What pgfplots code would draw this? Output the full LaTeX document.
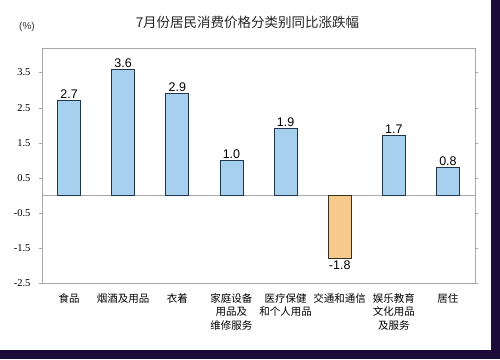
\documentclass[border=0pt]{standalone}
\usepackage{pgfplots}
\pgfplotsset{compat=1.18}
\usepackage{fontspec}
\setmainfont{Liberation Sans}
\newfontfamily\cjk{Noto Sans CJK SC}
\newfontfamily\serif{Liberation Serif}
\definecolor{barblue}{HTML}{A6D0EE}
\definecolor{barorange}{HTML}{F7C98C}
\definecolor{edgeblue}{HTML}{1F3550}
\definecolor{edgeorange}{HTML}{3A3020}
\definecolor{framegray}{HTML}{A8A8A8}
\definecolor{navy}{HTML}{1A0B38}
\begin{document}
\begin{tikzpicture}[x=1pt,y=1pt]
\fill[navy] (0,0) rectangle (500,-359);
\fill[white] (0,0) rectangle (491,-350);
\node[font=\cjk\fontsize{13.5}{15}\selectfont, text=black!85] at (247.5,-22) {7月份居民消费价格分类别同比涨跌幅};
\node[font=\fontsize{10}{12}\selectfont, text=black!80] at (27,-26.5) {(\%)};
\begin{axis}[
  at={(42pt,-283pt)}, anchor=south west,
  width=433pt, height=235pt, scale only axis,
  ybar, bar width=23pt, bar shift=0pt,
  xmin=-0.5, xmax=7.5, ymin=-2.5, ymax=4.2,
  axis line style={framegray},
  xtick={0,...,7}, xtick style={draw=none},
  xticklabels={食品,烟酒及用品,衣着,家庭设备\\用品及\\维修服务,医疗保健\\和个人用品,交通和通信,娱乐教育\\文化用品\\及服务,居住},
  xticklabel style={font=\cjk\fontsize{10.5}{13.3}\selectfont, align=center, anchor=north, yshift=-4pt},
  ytick={-2.5,-1.5,-0.5,0.5,1.5,2.5,3.5},
  yticklabels={-2.5,-1.5,-0.5,0.5,1.5,2.5,3.5},
  yticklabel style={font=\serif\fontsize{10.5}{12}\selectfont, xshift=-5pt},
  ytick style={framegray},
  tick align=outside, major tick length=3pt,
  nodes near coords,
  nodes near coords style={font=\fontsize{12.5}{14}\selectfont, inner sep=1.5pt, /pgf/number format/fixed, /pgf/number format/fixed zerofill, /pgf/number format/precision=1, /pgf/number format/assume math mode=true},
]
\draw[framegray, line width=0.8pt] (axis cs:-0.5,0) -- (axis cs:7.5,0);
\addplot[fill=barblue, draw=edgeblue, line width=0.8pt] coordinates {(0,2.7) (1,3.6) (2,2.9) (3,1.0) (4,1.9) (6,1.7) (7,0.8)};
\addplot[fill=barorange, draw=edgeorange, line width=0.8pt] coordinates {(5,-1.8)};
\end{axis}
\end{tikzpicture}
\end{document}
